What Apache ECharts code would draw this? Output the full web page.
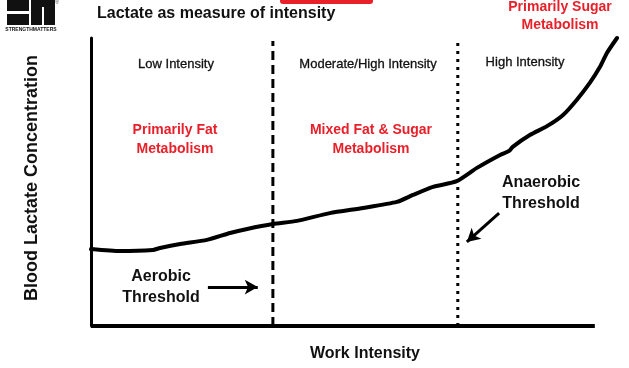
<!DOCTYPE html>
<html>
<head>
<meta charset="utf-8">
<script src="https://cdn.jsdelivr.net/npm/echarts@6/dist/echarts.min.js"></script>
<style>html,body{margin:0;padding:0;background:#fff;}#c{width:629px;height:368px;}</style>
</head>
<body>
<div id="c"></div>
<script>
// Work intensity (x) and blood lactate (y), arbitrary units
var workIntensity = [0, 5.75, 12.3, 13.7, 17.7, 23.0, 27.6, 31.0, 36.1, 40.9, 47.4, 54.0, 60.7, 63.9, 67.9, 72.6, 76.6, 81.2, 83.0, 83.7, 87.1, 90.5, 93.7, 96.4, 99.0, 101.0, 102.4, 104.4];
var lactate       = [26.7, 26.0, 26.4, 27.1, 28.5, 29.9, 32.3, 33.7, 35.4, 36.5, 39.2, 41.0, 43.1, 45.5, 48.3, 50.3, 54.9, 59.4, 60.8, 62.2, 66.3, 69.4, 73.3, 78.5, 84.4, 89.9, 94.8, 100];
var aerobicThreshold = 36.1;
var anaerobicThreshold = 72.8;
var xAxisEnd = 100;
var xMax = 104.4;
var thresholdTop = 99;
var aerobicArrow = [[23.2, 13.5], [33.1, 13.5]];
var anaerobicArrow = [[81.0, 39.2], [74.6, 29.2]];
var zoneLabels = ['Low Intensity', 'Moderate/High Intensity', 'High Intensity'];
var metabolismLabels = ['Primarily Fat\nMetabolism', 'Mixed Fat & Sugar\nMetabolism', 'Primarily Sugar\nMetabolism'];

var curve = workIntensity.map(function (x, i) { return [x, lactate[i]]; });
var FONT = 'Liberation Sans, Arial, Helvetica, sans-serif';
var RED = '#e8202a';

var chart = echarts.init(document.getElementById('c'), null, {renderer: 'canvas'});
chart.setOption({
  animation: false,
  backgroundColor: '#fff',
  title: {
    text: 'Lactate as measure of intensity',
    left: 97, top: 6, padding: 0,
    textStyle: {fontFamily: FONT, fontSize: 16, fontWeight: 'bold', color: '#111'}
  },
  grid: {left: 91, right: 12, top: 38, bottom: 42},
  xAxis: {
    type: 'value', min: 0, max: xMax,
    axisLine: {show: false}, axisTick: {show: false}, axisLabel: {show: false}, splitLine: {show: false}
  },
  yAxis: {
    type: 'value', min: 0, max: 100,
    axisLine: {show: true, lineStyle: {color: '#000', width: 3}},
    axisTick: {show: false}, axisLabel: {show: false}, splitLine: {show: false}
  },
  series: [
    {
      type: 'line', data: [[0, 0], [xAxisEnd, 0]], symbol: 'none', silent: true,
      lineStyle: {color: '#000', width: 4}
    },
    {
      type: 'line', data: [[aerobicThreshold, 0], [aerobicThreshold, thresholdTop]], symbol: 'none',
      lineStyle: {color: '#000', width: 3, type: [9, 5]}
    },
    {
      type: 'line', data: [[anaerobicThreshold, 0], [anaerobicThreshold, thresholdTop]], symbol: 'none',
      lineStyle: {color: '#000', width: 3, type: [3, 5]}
    },
    {
      type: 'line', data: curve, symbol: 'none', smooth: 0.2, clip: false,
      lineStyle: {color: '#000', width: 4, cap: 'round', join: 'round'},
      markLine: {
        silent: true, symbol: ['none', 'arrow'], symbolSize: [11, 13],
        label: {show: false},
        lineStyle: {color: '#000', width: 3, type: 'solid'},
        data: [
          [{coord: aerobicArrow[0]}, {coord: aerobicArrow[1]}],
          [{coord: anaerobicArrow[0]}, {coord: anaerobicArrow[1]}]
        ]
      }
    }
  ],
  graphic: [
    // logo
    {type: 'rect', shape: {x: 7, y: 0, width: 22, height: 11}, style: {fill: '#111'}},
    {type: 'rect', shape: {x: 7, y: 14, width: 22, height: 11}, style: {fill: '#111'}},
    {type: 'rect', shape: {x: 31, y: 0, width: 24, height: 25}, style: {fill: '#111'}},
    {type: 'rect', shape: {x: 42, y: 7, width: 2, height: 18}, style: {fill: '#fff'}},
    {type: 'text', x: 31, y: 30, style: {text: 'STRENGTHMATTERS', fontFamily: FONT, fontSize: 5, fontWeight: 'bold', fill: '#111', textAlign: 'center', textVerticalAlign: 'middle'}},
    {type: 'text', x: 57, y: 3, style: {text: '®', fontFamily: FONT, fontSize: 5, fill: '#444', textAlign: 'center', textVerticalAlign: 'middle'}},
    // red tab
    {type: 'rect', shape: {x: 280, y: -4, width: 93, height: 8, r: 3}, style: {fill: RED}},
    // zone labels
    {type: 'text', x: 176, y: 64, style: {text: zoneLabels[0], fontFamily: FONT, fontSize: 13, fill: '#111', stroke: '#111', lineWidth: 0.3, textAlign: 'center', textVerticalAlign: 'middle'}},
    {type: 'text', x: 368, y: 64, style: {text: zoneLabels[1], fontFamily: FONT, fontSize: 13, fill: '#111', stroke: '#111', lineWidth: 0.3, textAlign: 'center', textVerticalAlign: 'middle'}},
    {type: 'text', x: 525, y: 62, style: {text: zoneLabels[2], fontFamily: FONT, fontSize: 13, fill: '#111', stroke: '#111', lineWidth: 0.3, textAlign: 'center', textVerticalAlign: 'middle'}},
    // metabolism labels
    {type: 'text', x: 175, y: 140, style: {text: metabolismLabels[0], fontFamily: FONT, fontSize: 14, fontWeight: 'bold', lineHeight: 19, fill: RED, textAlign: 'center', textVerticalAlign: 'middle'}},
    {type: 'text', x: 371, y: 140, style: {text: metabolismLabels[1], fontFamily: FONT, fontSize: 14, fontWeight: 'bold', lineHeight: 19, fill: RED, textAlign: 'center', textVerticalAlign: 'middle'}},
    {type: 'text', x: 560, y: 16, style: {text: metabolismLabels[2], fontFamily: FONT, fontSize: 14, fontWeight: 'bold', lineHeight: 18, fill: RED, textAlign: 'center', textVerticalAlign: 'middle'}},
    // thresholds
    {type: 'text', x: 541, y: 193, style: {text: 'Anaerobic\nThreshold', fontFamily: FONT, fontSize: 16, fontWeight: 'bold', lineHeight: 21, fill: '#111', textAlign: 'center', textVerticalAlign: 'middle'}},
    {type: 'text', x: 161, y: 287, style: {text: 'Aerobic\nThreshold', fontFamily: FONT, fontSize: 16, fontWeight: 'bold', lineHeight: 21, fill: '#111', textAlign: 'center', textVerticalAlign: 'middle'}},
    // axis names
    {type: 'text', x: 365, y: 354, style: {text: 'Work Intensity', fontFamily: FONT, fontSize: 16, fontWeight: 'bold', fill: '#111', textAlign: 'center', textVerticalAlign: 'middle'}},
    {type: 'text', x: 32, y: 178, rotation: Math.PI / 2, style: {text: 'Blood Lactate Concentration', fontFamily: FONT, fontSize: 18, fontWeight: 'bold', fill: '#111', textAlign: 'center', textVerticalAlign: 'middle'}}
  ]
});
</script>
</body>
</html>
